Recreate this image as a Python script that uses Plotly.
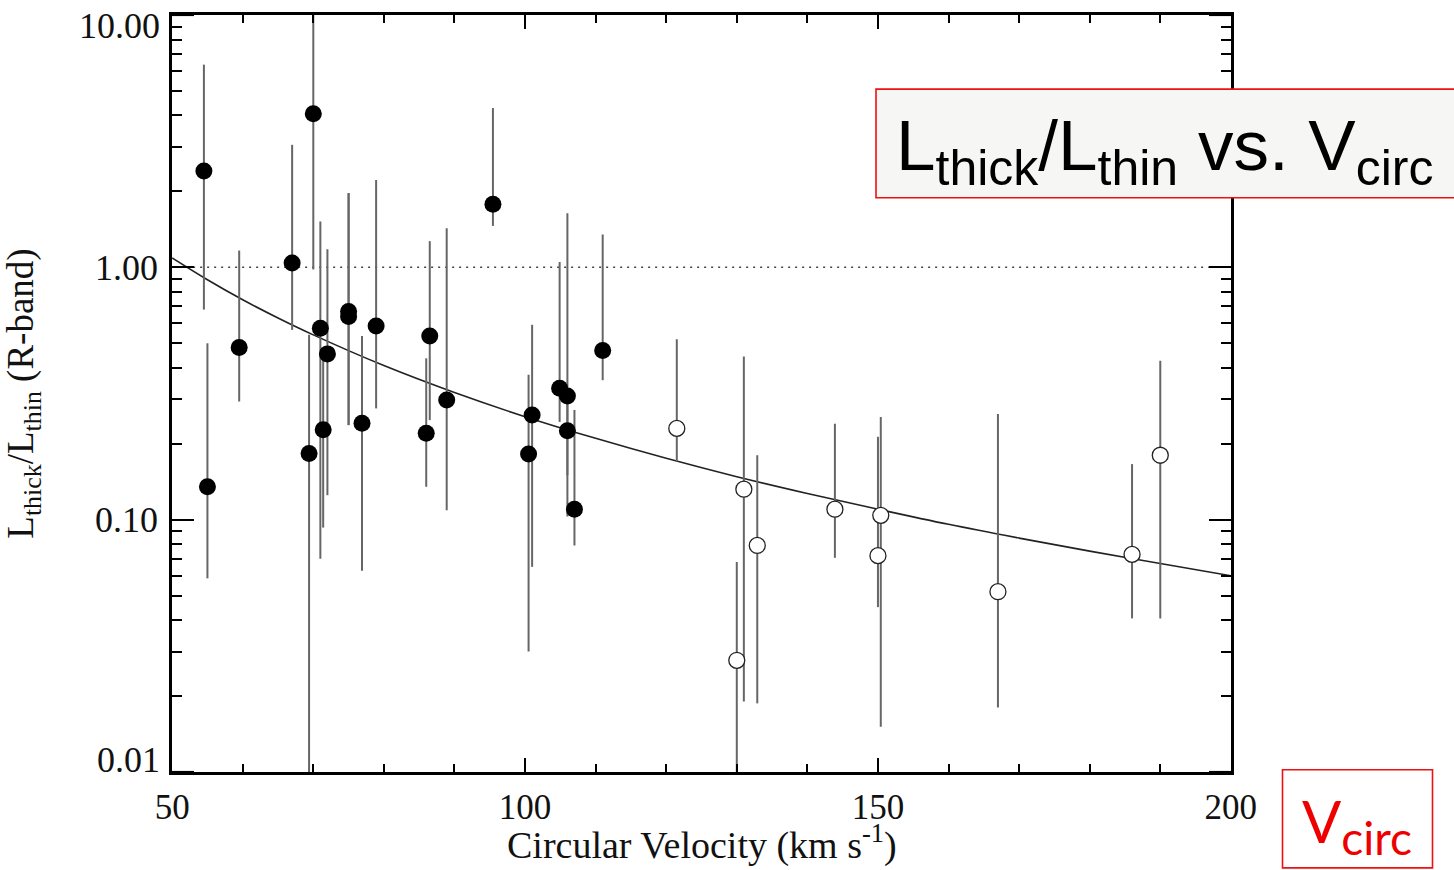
import math
import plotly.graph_objects as go

# ---- data ----
# filled circles: circular velocity, ratio, lower end of bar, upper end of bar
fill_v = [54.5, 55.0, 59.5, 67.0, 69.4, 70.0, 71.0, 71.4, 72.0, 75.0, 75.0, 76.9,
          78.9, 86.0, 86.5, 88.9, 95.45, 100.5, 101.0, 104.9, 106.0, 106.0, 107.0, 111.0]
fill_r = [2.41, 0.135, 0.481, 1.04, 0.183, 4.06, 0.574, 0.227, 0.454, 0.668, 0.638, 0.241,
          0.586, 0.220, 0.535, 0.298, 1.78, 0.182, 0.260, 0.332, 0.309, 0.225, 0.110, 0.468]
fill_lo = [0.68, 0.0585, 0.294, 0.565, 0.001, 0.98, 0.070, 0.093, 0.125, 0.237, 0.237, 0.0627,
           0.276, 0.135, 0.248, 0.109, 1.46, 0.030, 0.065, 0.244, 0.103, 0.150, 0.079, 0.357]
fill_hi = [6.36, 0.50, 1.166, 3.06, 0.54, 20.0, 1.52, 0.45, 1.18, 1.97, 1.97, 0.535,
           2.22, 0.436, 1.27, 1.43, 4.28, 0.375, 0.592, 1.05, 1.64, 0.330, 0.272, 1.35]

# open circles
open_v = [121.5, 130.0, 131.0, 132.9, 143.9, 150.0, 150.4, 167.0, 186.0, 190.0]
open_r = [0.230, 0.0277, 0.132, 0.079, 0.110, 0.072, 0.104, 0.0518, 0.0728, 0.180]
open_lo = [0.170, 0.001, 0.019, 0.0187, 0.0706, 0.045, 0.0151, 0.018, 0.0406, 0.0406]
open_hi = [0.519, 0.068, 0.443, 0.180, 0.240, 0.213, 0.255, 0.262, 0.166, 0.426]

# fitted curve
fit_v = [50, 55, 60, 65, 70, 80, 90, 100, 110, 120, 130, 140, 150, 160, 170, 180, 190, 200]
fit_r = [1.09, 0.893, 0.744, 0.630, 0.540, 0.408, 0.319, 0.256, 0.210, 0.175, 0.148,
         0.127, 0.110, 0.0958, 0.0845, 0.075, 0.067, 0.0599]

# reference line at unity
ref_v = [50, 200]
ref_r = [1.0, 1.0]

# y tick labels: inner ones on the axis, the two end labels nudged inward as in the reference
y_tickvals = [0.1, 1]
y_ticktext = ["0.10", "1.00"]
y_end_vals = [10, 0.01]
y_end_text = ["10.00", "0.01"]
x_tickvals = [50, 100, 150, 200]
x_ticktext = ["50", "100", "150", "200"]

# ---- figure ----
SERIF = "Liberation Serif, Times New Roman, serif"
BAR = "#666666"

fig = go.Figure()

fig.add_trace(go.Scatter(x=ref_v, y=ref_r, mode="lines",
                         line=dict(color="#444444", width=1.5, dash="2px,5px"),
                         hoverinfo="skip", showlegend=False))
fig.add_trace(go.Scatter(x=fit_v, y=fit_r, mode="lines",
                         line=dict(color="#222222", width=1.6, shape="spline"),
                         hoverinfo="skip", showlegend=False))

fig.add_trace(go.Scatter(
    x=fill_v, y=fill_r, mode="markers",
    marker=dict(symbol="circle", size=17, color="black"),
    error_y=dict(type="data", symmetric=False,
                 array=[h - r for h, r in zip(fill_hi, fill_r)],
                 arrayminus=[r - l for r, l in zip(fill_r, fill_lo)],
                 color=BAR, thickness=2, width=0),
    showlegend=False))

fig.add_trace(go.Scatter(
    x=open_v, y=open_r, mode="markers",
    marker=dict(symbol="circle", size=16, color="white",
                line=dict(color="#222222", width=1.3)),
    error_y=dict(type="data", symmetric=False,
                 array=[h - r for h, r in zip(open_hi, open_r)],
                 arrayminus=[r - l for r, l in zip(open_r, open_lo)],
                 color=BAR, thickness=2, width=0),
    showlegend=False))

y_minor = [m * 10 ** k for k in (-2, -1, 0) for m in range(2, 10)]

fig.update_xaxes(
    type="linear", range=[49.98, 200.02], automargin=False,
    tickmode="array", tickvals=x_tickvals, ticktext=x_ticktext,
    ticks="inside", ticklen=14, tickwidth=2, tickcolor="black",
    minor=dict(tickmode="array", tickvals=list(range(60, 200, 10)),
               ticks="inside", ticklen=8, tickwidth=2, tickcolor="black", showgrid=False),
    showline=True, linewidth=2.5, linecolor="black", mirror="allticks",
    showgrid=False, zeroline=False,
    tickfont=dict(family=SERIF, size=35, color="#111111"),
    ticklabelstandoff=2, ticklabeloverflow="allow",
)
fig.update_yaxes(
    type="log", range=[-2.0003, 1.0003], automargin=False,
    tickmode="array", tickvals=y_tickvals, ticktext=y_ticktext,
    ticks="inside", ticklen=22, tickwidth=2, tickcolor="black",
    minor=dict(tickmode="array", tickvals=y_minor,
               ticks="inside", ticklen=10, tickwidth=2, tickcolor="black", showgrid=False),
    showline=True, linewidth=2.5, linecolor="black", mirror="allticks",
    showgrid=False, zeroline=False,
    tickfont=dict(family=SERIF, size=36, color="#111111"),
    ticklabelstandoff=4, ticklabeloverflow="allow",
    title=dict(text="L<sub>thick</sub>/L<sub>thin</sub> (R-band)",
               font=dict(family=SERIF, size=37, color="#111111"), standoff=108),
)

PX0, PX1, PY0, PY1 = 172, 1231, 15.4, 771.7
def px(x):
    return (x - PX0) / (PX1 - PX0)
def py(y):
    return (PY1 - y) / (PY1 - PY0)

# x-axis title
fig.add_annotation(xref="paper", yref="paper", x=0.5, y=py(869),
                   xanchor="center", yanchor="bottom", showarrow=False,
                   text="Circular Velocity (km s<sup>-1</sup>)",
                   font=dict(family=SERIF, size=38, color="#111111"))

# the end major ticks (both sides) and their labels
for v in y_end_vals:
    for side_x, dx in ((0, 22), (1, -22)):
        fig.add_shape(type="line", xref="x domain", yref="y",
                      x0=side_x, x1=side_x + dx / (PX1 - PX0), y0=v, y1=v,
                      line=dict(color="black", width=2))
for v, t, shift in zip(y_end_vals, y_end_text, (-11, 12)):
    fig.add_annotation(xref="paper", yref="y", x=px(162), y=math.log10(v),
                       yshift=shift, xanchor="right", yanchor="middle", showarrow=False,
                       text=t, font=dict(family=SERIF, size=36, color="#111111"))

# annotation boxes (paper coords relative to plot area)
SUB = "<sub><span style='font-size:50px'>{}</span></sub>"
fig.add_shape(type="rect", xref="paper", yref="paper",
              x0=px(876), x1=px(1462), y0=py(198), y1=py(89.5),
              fillcolor="#f6f6f4", line=dict(color="#ee1111", width=1.6), layer="above")
fig.add_annotation(xref="paper", yref="paper", x=px(894), y=py(151),
                   xanchor="left", yanchor="middle", showarrow=False,
                   text="L" + SUB.format("thick") + "/L" + SUB.format("thin")
                        + " vs. V" + SUB.format("circ"),
                   font=dict(family="Liberation Sans, Arial, sans-serif", size=71, color="black"))

fig.add_shape(type="rect", xref="paper", yref="paper",
              x0=px(1282.5), x1=px(1432.5), y0=py(867.5), y1=py(769.5),
              fillcolor="white", line=dict(color="#ee1111", width=1.6), layer="above")
fig.add_annotation(xref="paper", yref="paper", x=px(1300), y=py(825),
                   xanchor="left", yanchor="middle", showarrow=False,
                   text="V<sub><span style='font-size:46px'>circ</span></sub>",
                   font=dict(family="Lato, Open Sans, sans-serif", size=58, color="#ee0000"))

fig.update_layout(
    width=1454, height=870,
    margin=dict(l=PX0, r=1454 - PX1, t=PY0, b=870 - PY1, pad=0, autoexpand=False),
    paper_bgcolor="white", plot_bgcolor="white",
    showlegend=False,
)

fig.write_html("out.html")
